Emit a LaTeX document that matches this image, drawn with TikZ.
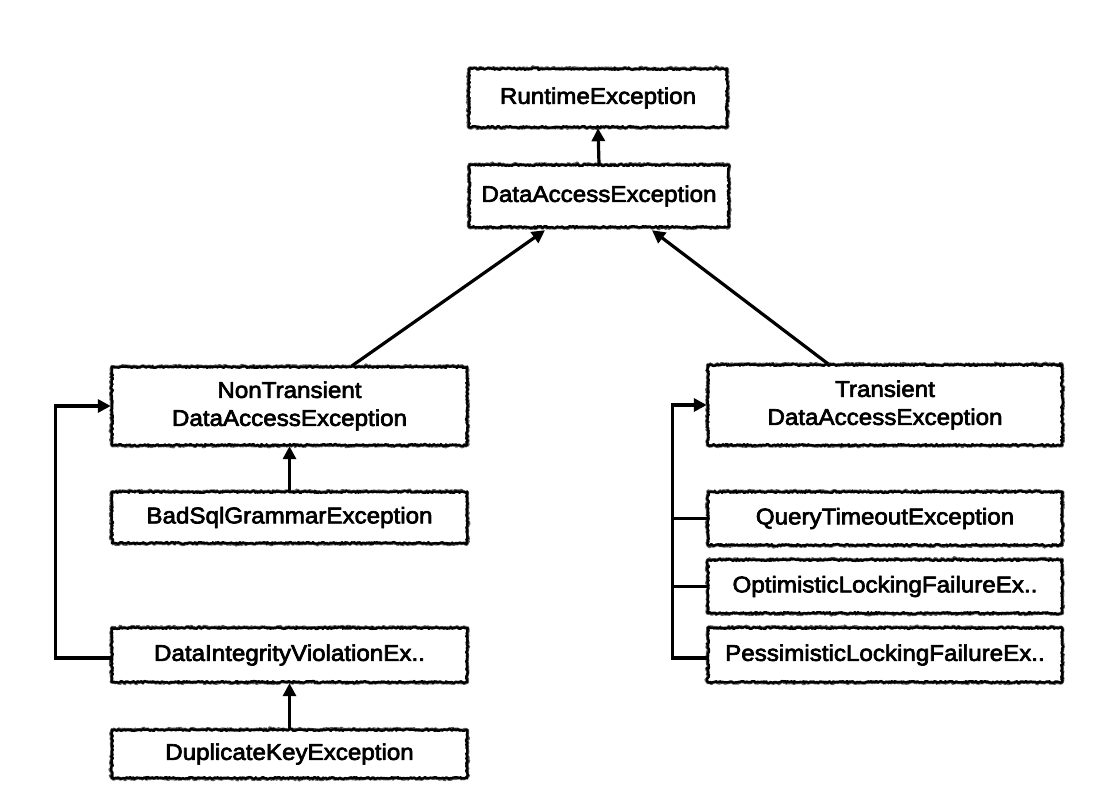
\documentclass[tikz,border=0pt]{standalone}
\usepackage{fontspec}
\setmainfont[FakeStretch=1.06,FakeBold=3]{Liberation Sans}
\usetikzlibrary{arrows.meta,decorations.pathmorphing}
\begin{document}
\begin{tikzpicture}[x=1pt,y=-1pt,
  box/.style={draw=black, line width=2.4pt, fill=white, line join=round,
    decorate, decoration={random steps, segment length=1.2pt, amplitude=0.9pt},
    preaction={draw=black!65, line width=4pt, line join=round, decorate,
      decoration={random steps, segment length=0.9pt, amplitude=1pt}},
    align=center, inner sep=0pt, font=\fontsize{22.8}{28}\selectfont},
  arr/.style={line width=3.2pt, -{Triangle[length=13pt,width=13pt]}},
  ln/.style={line width=3.2pt}]
\useasboundingbox (0,0) rectangle (1114,793);
\fill[white] (0,0) rectangle (1114,793);
\node[box, minimum width=258pt, minimum height=58pt] (RE) at (598,98) {RuntimeException};
\node[box, minimum width=259pt, minimum height=62pt] (DAE) at (599,196) {DataAccessException};
\node[box, minimum width=355pt, minimum height=78pt] (NT) at (289.5,406) {NonTransient\\DataAccessException};
\node[box, minimum width=355pt, minimum height=51pt] (BSG) at (289.5,517.5) {BadSqlGrammarException};
\node[box, minimum width=355pt, minimum height=54pt] (DIV) at (289.5,655) {DataIntegrityViolationEx..};
\node[box, minimum width=355pt, minimum height=48pt] (DK) at (289.5,754) {DuplicateKeyException};
\node[box, minimum width=354pt, minimum height=80pt] (TR) at (885,405) {Transient\\DataAccessException};
\node[box, minimum width=354pt, minimum height=53pt] (QT) at (885,518.5) {QueryTimeoutException};
\node[box, minimum width=354pt, minimum height=53pt] (OL) at (885,586.5) {OptimisticLockingFailureEx..};
\node[box, minimum width=354pt, minimum height=54pt] (PL) at (885,655) {PessimisticLockingFailureEx..};

\draw[arr] (DAE.north) -- (RE.south);
\draw[arr] ([xshift=62.5pt]NT.north) -- ([xshift=-54pt,yshift=-2pt]DAE.south);
\draw[arr] ([xshift=-57pt]TR.north) -- ([xshift=53pt,yshift=-2pt]DAE.south);
\draw[arr] (BSG.north) -- (NT.south);
\draw[arr] (DK.north) -- (DIV.south);
\draw[arr] ([yshift=-3pt]DIV.west) -- ++(-55pt,0) |- (NT.west);
\draw[arr] ([yshift=-3pt]PL.west) -- ++(-34pt,0) |- (TR.west);
\draw[ln] (QT.west) -- ++(-34pt,0);
\draw[ln] (OL.west) -- ++(-34pt,0);
\end{tikzpicture}
\end{document}
